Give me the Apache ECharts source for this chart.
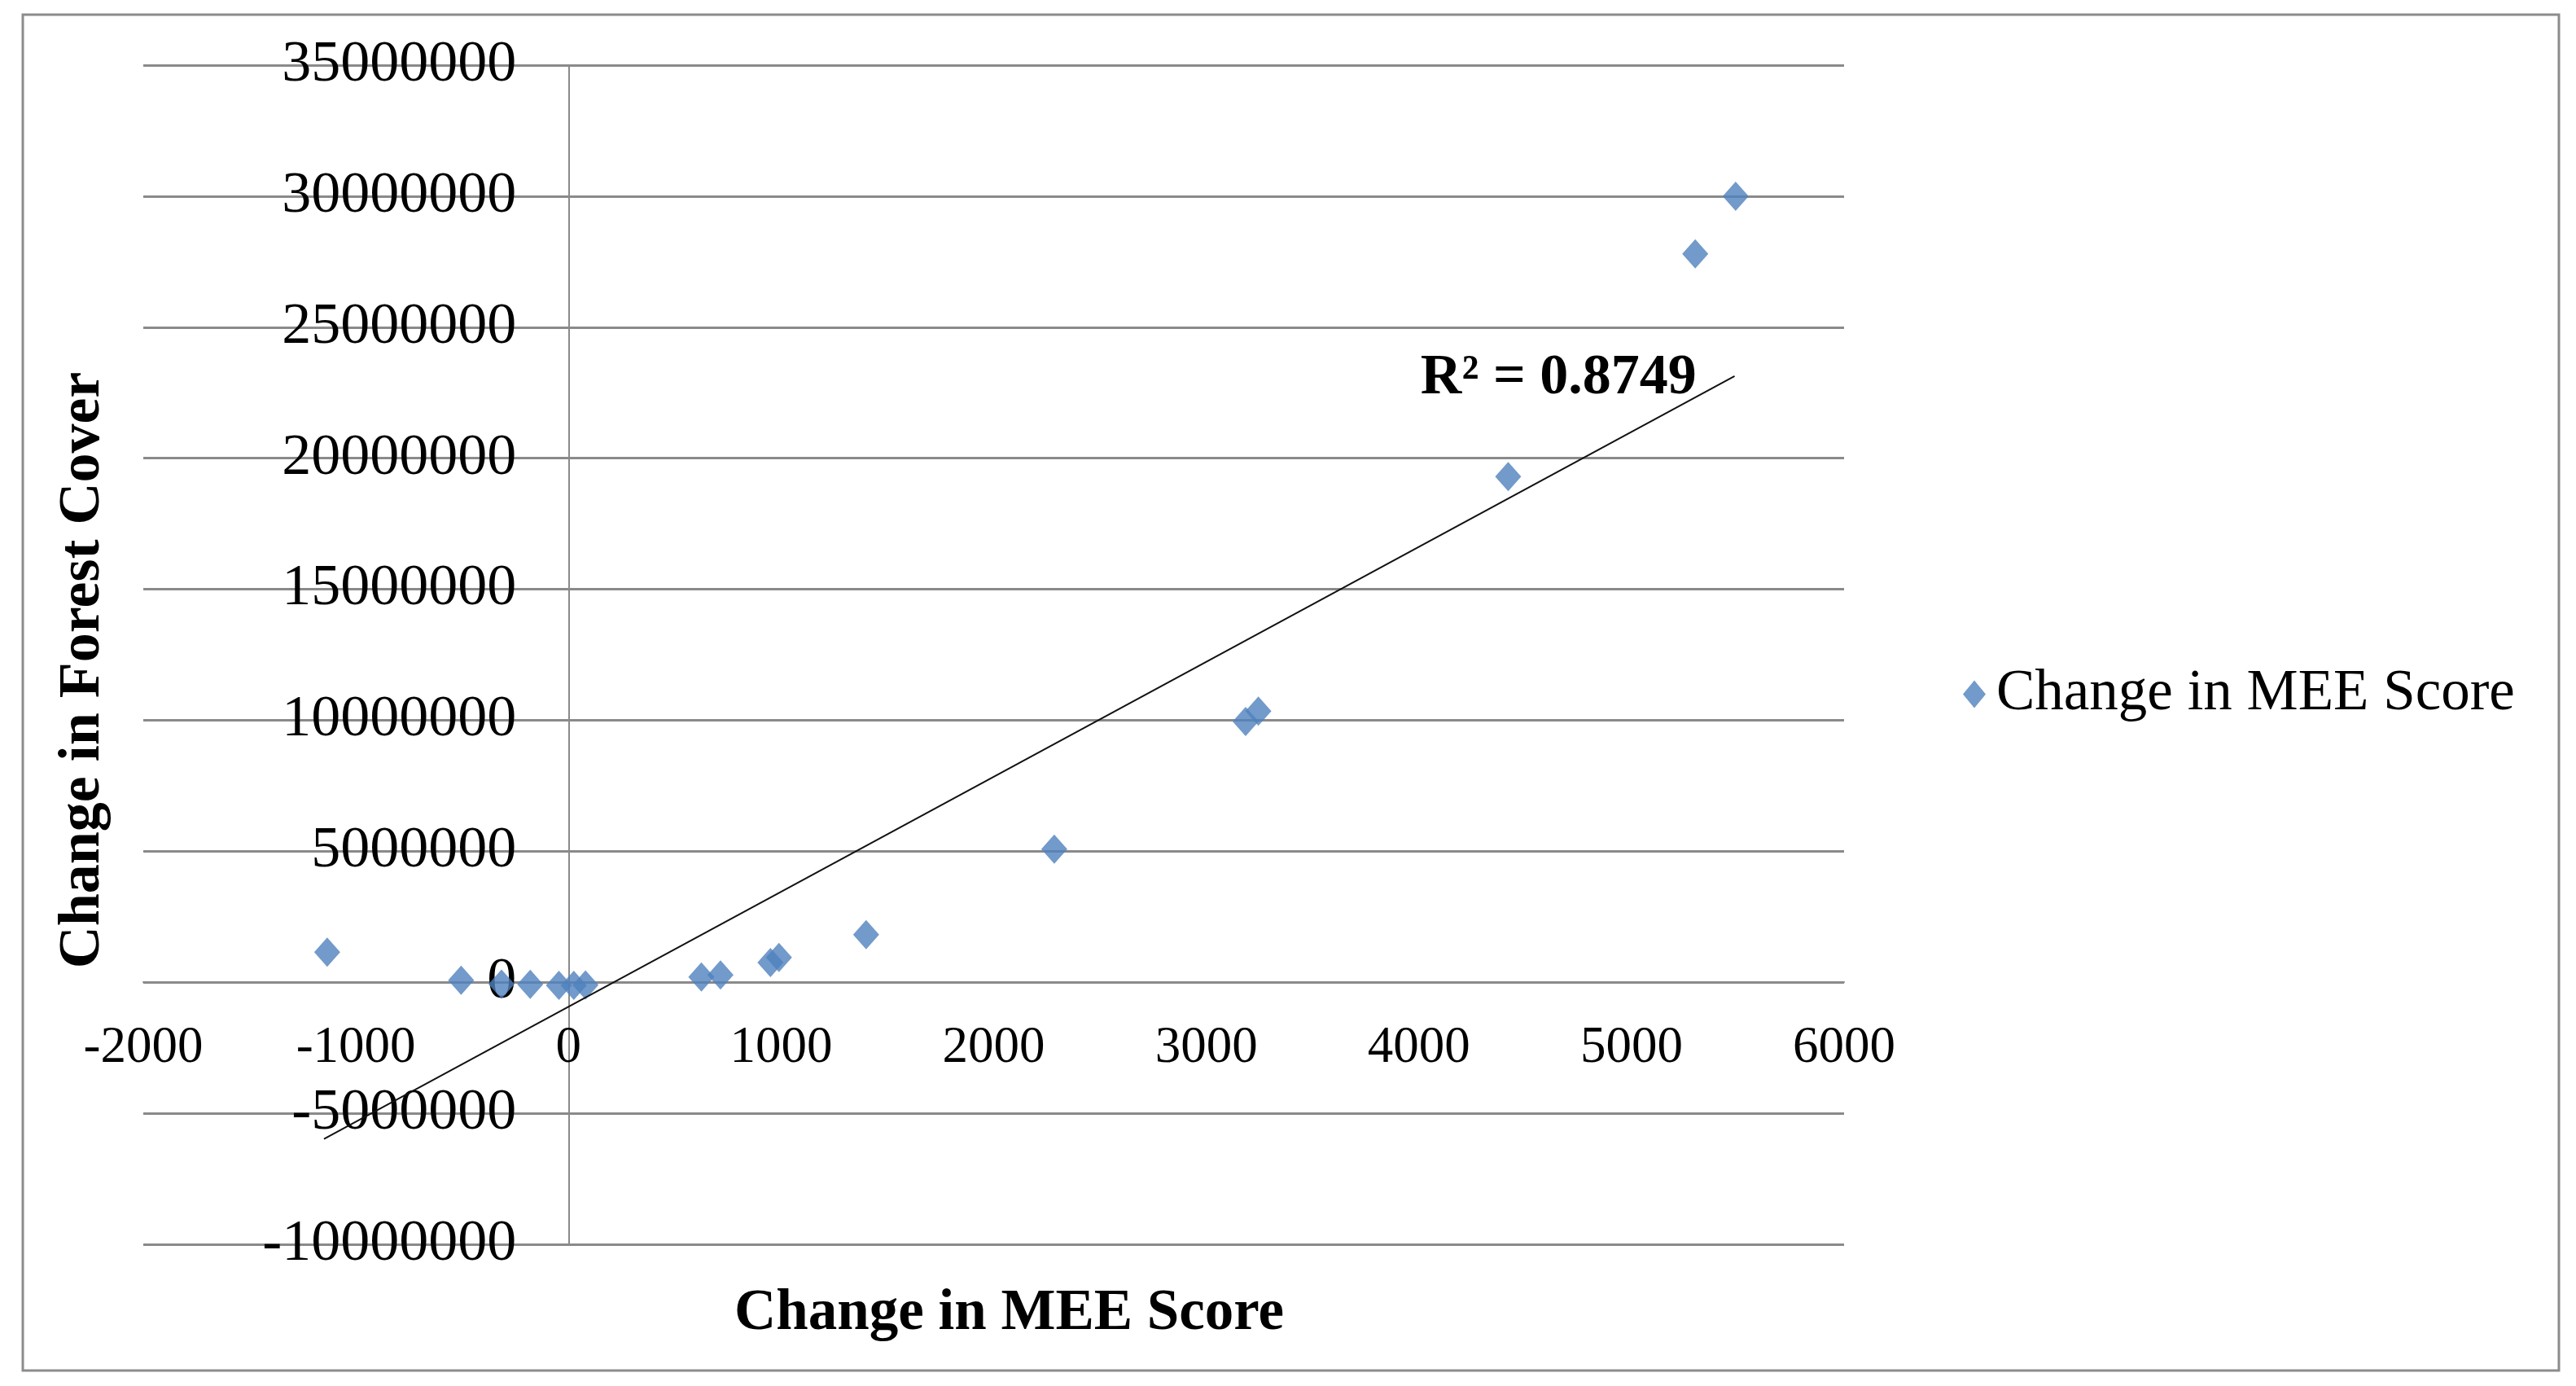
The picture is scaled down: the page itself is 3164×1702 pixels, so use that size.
<!DOCTYPE html>
<html><head><meta charset="utf-8">
<script src="https://cdn.jsdelivr.net/npm/echarts@6/dist/echarts.min.js"></script>
<style>html,body{margin:0;padding:0;background:#fff}#c{width:3164px;height:1702px}</style>
</head><body><div id="c"></div>
<script>
// Change in MEE Score (x) vs Change in Forest Cover (y)
const meeChange = [-1135, -505, -315, -180, -45, 25, 80, 625, 715, 950, 990, 1400, 2285, 3185, 3245, 4420, 5300, 5490];
const forestChange = [1150000, 80000, -70000, -80000, -120000, -120000, -100000, 200000, 280000, 750000, 950000, 1820000, 5080000, 9950000, 10350000, 19300000, 27800000, 30000000];
// Linear trendline as drawn in the picture (end points)
const trendMee = [-1150, 5485];
const trendForest = [-5980000, 23130000];
// Axis ranges
const xMin = -2000, xMax = 6000, xStep = 1000;
const yMin = -10000000, yMax = 35000000, yStep = 5000000;
// Annotation
const r2Text = 'R\u00B2 = 0.8749';
const r2At = [4657, 23050000];
const seriesName = 'Change in MEE Score';
const xTitle = 'Change in MEE Score';
const yTitle = 'Change in Forest Cover';

const FONT = "'Liberation Serif', 'Times New Roman', serif";
const GRID = '#8a8a8a';

const G = {left: 176, right: 899, top: 80, bottom: 174};
const W = 3164, H = 1702;
const gw = W - G.left - G.right, gh = H - G.top - G.bottom;
// shift axes so they cross at zero (labels and names follow)
const yAxisOffset = -gw * (0 - xMin) / (xMax - xMin);
const xAxisOffset = -gh * (0 - yMin) / (yMax - yMin);

const chart = echarts.init(document.getElementById('c'), null, {renderer: 'canvas'});
chart.setOption({
  backgroundColor: '#ffffff',
  animation: false,
  textStyle: {fontFamily: FONT},
  graphic: [{
    type: 'rect', z: -1,
    shape: {x: 28, y: 18, width: 3115, height: 1665},
    style: {fill: 'none', stroke: '#8c8c8c', lineWidth: 3}
  }],
  grid: {left: G.left, right: G.right, top: G.top, bottom: G.bottom, containLabel: false, outerBoundsMode: 'none'},
  legend: {
    data: [seriesName],
    left: 2406, top: 812,
    icon: 'diamond', itemWidth: 28, itemHeight: 34, itemGap: 10,
    textStyle: {fontFamily: FONT, fontSize: 71, color: '#000', padding: [0, 0, 0, 8]}
  },
  xAxis: {
    type: 'value', min: xMin, max: xMax, interval: xStep,
    position: 'bottom', offset: xAxisOffset,
    axisLine: {show: true, onZero: false, lineStyle: {color: GRID, width: 2}},
    axisTick: {show: false},
    splitLine: {show: false},
    axisLabel: {fontFamily: FONT, fontSize: 63, color: '#000', margin: 50, formatter: v => String(v)},
    name: xTitle, nameLocation: 'middle', nameGap: 372,
    nameTextStyle: {fontFamily: FONT, fontSize: 71, fontWeight: 'bold', color: '#000', padding: [0, 0, 0, 38]}
  },
  yAxis: {
    type: 'value', min: yMin, max: yMax, interval: yStep,
    position: 'left', offset: yAxisOffset,
    axisLine: {show: true, onZero: false, lineStyle: {color: GRID, width: 2}},
    axisTick: {show: false},
    splitLine: {show: true, lineStyle: {color: GRID, width: 3}},
    axisLabel: {fontFamily: FONT, fontSize: 72, color: '#000', margin: 64, formatter: v => String(v)},
    name: yTitle, nameLocation: 'middle', nameGap: 560,
    nameTextStyle: {fontFamily: FONT, fontSize: 72, fontWeight: 'bold', color: '#000', padding: [0, 38, 0, 0]}
  },
  series: [{
    name: seriesName,
    type: 'scatter',
    symbol: 'diamond',
    symbolSize: [32, 36],
    itemStyle: {color: '#4F81BD'},
    data: meeChange.map((x, i) => [x, forestChange[i]]),
    z: 3
  }, {
    name: 'Linear (' + seriesName + ')',
    type: 'line',
    data: trendMee.map((x, i) => [x, trendForest[i]]),
    showSymbol: false,
    symbol: 'none',
    silent: true,
    lineStyle: {color: '#111', width: 2},
    z: 4,
    markPoint: {
      silent: true,
      symbol: 'circle', symbolSize: 1,
      itemStyle: {color: 'rgba(0,0,0,0)'},
      label: {show: true, position: 'inside', formatter: r2Text, fontFamily: FONT, fontSize: 70, fontWeight: 'bold', color: '#000'},
      data: [{coord: r2At}]
    }
  }]
});
</script></body></html>
